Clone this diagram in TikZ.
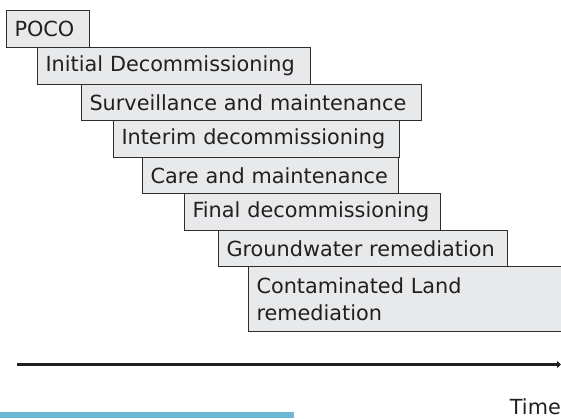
\documentclass[tikz,border=0pt]{standalone}
\usepackage{tikz}
\usepackage{xcolor}
\usepackage{fontspec}
\setmainfont{DejaVu Sans}
\usetikzlibrary{arrows.meta}
\definecolor{boxg}{RGB}{232,233,235}
\definecolor{lineg}{RGB}{45,45,45}
\definecolor{textg}{RGB}{35,31,32}
\definecolor{barblue}{RGB}{107,185,214}
\tikzset{
  phase/.style={draw=lineg, fill=boxg, line width=1pt, anchor=north west,
    inner xsep=8pt, inner ysep=0pt, align=left, minimum height=36.6pt,
    text=textg, font=\fontsize{20.8}{26.5}\selectfont},
  timeline/.style={draw=textg, line width=3.5pt, -{Triangle[length=4pt,width=7pt]}}
}

\begin{document}
\begin{tikzpicture}[x=1pt,y=-1pt]
\useasboundingbox (0,0) rectangle (561,418);
  \node[phase, text width=67pt]  (poco)    at (6,10)    {POCO};
  \node[phase, text width=257pt] (initial) at (37,47)   {\mbox{Initial Decommissioning}};
  \node[phase, text width=324pt] (surv)    at (81,83.5) {\mbox{Surveillance and maintenance}};
  \node[phase, text width=270pt] (interim) at (113,120) {\mbox{Interim decommissioning}};
  \node[phase, text width=240pt] (care)    at (142,156.5) {\mbox{Care and maintenance}};
  \node[phase, text width=240pt] (final)   at (184,193) {\mbox{Final decommissioning}};
  \node[phase, text width=273pt] (ground)  at (218,229.5) {\mbox{Groundwater remediation}};
  \node[phase, text width=304pt, minimum height=65pt] (contam) at (248,266)
    {Contaminated Land\\remediation};
  \coordinate (tstart) at (17,364.5);
  \coordinate (tend) at (561,364.5);
\draw[timeline] (tstart) -- (tend);
  \node[anchor=base east, text=textg, font=\fontsize{20.8}{26.5}\selectfont, inner sep=0pt] (time) at (561,414) {Time};
\fill[barblue] (0,411.7) rectangle (293.5,418);
\end{tikzpicture}
\end{document}
